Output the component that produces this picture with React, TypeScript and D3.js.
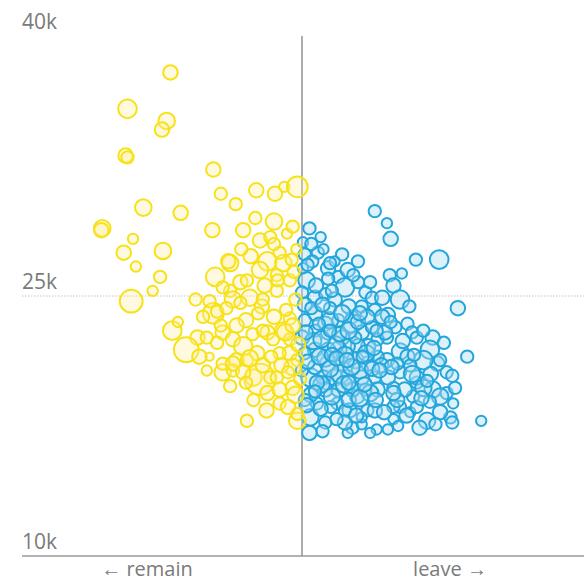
import React from "react";
import * as d3 from "d3";

// [leave %, median income (k£), electorate (k)]
const remainAreas: [number, number, number][] = [
  [35.9, 37.9, 275], [31.3, 35.8, 455], [35.5, 35.1, 360], [35.0, 34.6, 275],
  [31.1, 33.1, 275], [31.3, 33.0, 200], [40.5, 32.3, 275], [33.0, 30.1, 360],
  [37.0, 29.8, 275], [28.6, 28.9, 360], [28.5, 28.8, 275], [31.9, 28.3, 140],
  [30.9, 27.5, 275], [35.1, 27.6, 360], [32.2, 26.7, 140], [34.8, 26.1, 200],
  [34.0, 25.3, 140], [31.7, 24.7, 680], [41.3, 30.9, 200], [42.9, 30.3, 200],
  [45.1, 31.1, 275], [47.1, 30.9, 275], [48.1, 31.3, 140], [49.5, 31.3, 560],
  [40.4, 28.8, 275], [43.7, 28.8, 275], [47.0, 29.3, 360], [45.5, 28.2, 275],
  [46.6, 28.4, 200], [48.4, 28.6, 140], [40.7, 26.1, 455], [42.3, 26.9, 360],
  [43.4, 25.8, 275], [44.1, 25.9, 200], [42.3, 25.3, 200], [44.4, 24.9, 360],
  [46.3, 27.0, 455], [48.0, 26.9, 360], [47.3, 26.2, 200], [48.7, 25.9, 200],
  [47.3, 25.3, 200], [45.7, 24.4, 275], [45.3, 24.0, 200], [40.5, 24.0, 560],
  [39.4, 23.8, 200], [36.1, 23.0, 455], [36.7, 23.5, 140], [38.8, 22.6, 275],
  [37.6, 21.9, 800], [41.5, 22.9, 275], [40.9, 22.3, 200], [42.6, 22.5, 275],
  [43.7, 22.1, 455], [43.0, 21.3, 275], [44.1, 21.3, 200], [45.2, 21.7, 275],
  [46.3, 22.9, 275], [46.9, 22.5, 200], [48.0, 23.0, 360], [48.7, 22.5, 200],
  [48.7, 21.7, 275], [49.5, 21.3, 200], [41.5, 20.6, 360], [42.6, 20.7, 200],
  [44.8, 20.3, 360], [45.5, 20.2, 1260], [39.8, 20.7, 140], [40.1, 21.5, 90],
  [46.6, 20.3, 200], [46.3, 19.4, 275], [47.3, 20.3, 200], [47.6, 21.7, 200],
  [49.0, 19.7, 275], [49.5, 17.8, 360], [44.1, 17.8, 200], [40.9, 24.1, 200],
  [42.1, 27.0, 275], [47.6, 27.5, 200], [48.9, 27.1, 200], [45.5, 26.5, 360],
  [41.5, 25.5, 200], [42.6, 24.8, 360], [45.8, 24.8, 200], [40.1, 24.7, 200],
  [47.4, 25.9, 200], [41.9, 24.3, 200], [43.4, 24.6, 200], [48.2, 22.9, 360],
  [39.8, 22.6, 200], [44.4, 21.4, 360], [41.5, 21.1, 200], [42.6, 21.1, 275],
  [43.7, 20.6, 275], [47.6, 19.6, 275], [49.0, 20.9, 360], [47.6, 18.8, 200],
  [49.5, 18.2, 200], [49.8, 20.2, 200], [48.7, 23.7, 200], [49.3, 24.8, 200],
  [49.4, 27.7, 140], [49.1, 26.4, 200], [49.3, 19.3, 360], [49.6, 22.2, 275],
  [44.0, 23.6, 275], [45.8, 23.0, 200], [47.0, 23.8, 275], [48.3, 24.2, 200],
  [46.0, 25.6, 275], [43.0, 23.3, 275], [41.3, 23.3, 200], [44.7, 22.8, 200],
  [47.8, 21.0, 275], [45.8, 21.0, 275], [44.0, 20.0, 200], [46.7, 21.5, 200],
  [48.5, 20.6, 200], [42.3, 19.8, 200], [44.8, 19.0, 200], [46.2, 18.4, 275],
  [48.5, 18.6, 275], [49.0, 23.3, 275], [47.0, 28.0, 200], [44.5, 27.3, 275],
  [38.6, 24.8, 200], [39.0, 21.5, 275], [43.5, 27.7, 200], [49.0, 29.0, 200],
  [45.0, 29.5, 200],
];

const leaveAreas: [number, number, number][] = [
  [57.8, 29.9, 200], [59.1, 29.2, 140], [59.5, 28.3, 275], [62.2, 27.1, 200],
  [64.7, 27.1, 455], [66.7, 24.3, 275], [67.7, 21.5, 200], [69.2, 17.8, 140],
  [50.8, 28.9, 200], [50.1, 28.1, 140], [50.3, 27.4, 200], [51.7, 27.5, 200],
  [52.3, 27.7, 140], [54.3, 27.4, 200], [52.8, 26.6, 275], [53.9, 26.1, 200],
  [54.9, 26.5, 275], [54.6, 25.5, 455], [59.4, 26.2, 200], [60.7, 26.3, 140],
  [59.8, 25.6, 275], [60.5, 24.8, 455], [56.8, 25.2, 200], [50.5, 25.9, 360],
  [59.2, 23.9, 275], [61.3, 23.4, 200], [64.0, 22.6, 275], [63.7, 21.9, 455],
  [64.5, 21.1, 275], [65.5, 20.6, 200], [63.0, 21.3, 455], [62.3, 20.0, 200],
  [64.0, 19.6, 360], [65.5, 19.4, 200], [66.2, 18.8, 140], [63.4, 17.8, 360],
  [65.9, 18.0, 200], [61.6, 18.3, 140], [60.5, 18.6, 200], [58.0, 17.3, 140],
  [59.2, 17.3, 140], [55.4, 17.4, 200], [55.1, 18.4, 275], [52.5, 17.7, 200],
  [50.9, 18.0, 360], [51.6, 18.8, 200], [53.8, 18.8, 200], [55.9, 19.2, 275],
  [57.0, 18.4, 200], [52.7, 20.0, 275], [50.9, 20.3, 455], [61.8, 22.9, 200],
  [62.3, 22.6, 200], [60.5, 21.8, 360], [64.8, 21.3, 200], [66.1, 20.4, 200],
  [59.1, 22.6, 200], [59.1, 21.3, 275], [62.3, 20.3, 275], [63.0, 19.7, 360],
  [64.8, 19.2, 360], [61.9, 19.2, 200], [62.3, 18.6, 200], [59.8, 18.6, 200],
  [64.8, 18.3, 275], [66.1, 17.7, 200], [59.8, 19.7, 200], [60.5, 20.6, 200],
  [50.0, 25.2, 200], [51.4, 24.9, 275], [52.5, 25.1, 200], [53.5, 24.8, 275],
  [57.8, 24.2, 200], [56.4, 24.4, 200], [55.4, 23.8, 200], [51.4, 24.0, 275],
  [50.3, 23.6, 200], [52.5, 23.4, 275], [53.9, 23.6, 200], [50.0, 22.6, 275],
  [51.4, 23.0, 200], [52.8, 22.9, 275], [54.3, 22.6, 275], [55.4, 23.4, 455],
  [56.4, 22.9, 275], [57.5, 23.2, 200], [58.6, 23.8, 275], [58.1, 22.5, 200],
  [57.1, 22.1, 275], [56.0, 22.1, 275], [54.9, 22.1, 275], [53.9, 21.9, 360],
  [52.8, 21.9, 275], [51.4, 21.9, 275], [50.3, 21.7, 200], [51.4, 20.9, 275],
  [52.8, 21.1, 360], [54.3, 21.1, 275], [55.7, 21.3, 360], [57.1, 21.1, 275],
  [58.1, 21.5, 200], [52.3, 20.3, 275], [53.5, 20.3, 360], [54.9, 20.3, 275],
  [56.4, 20.3, 275], [57.8, 20.3, 200], [59.2, 20.3, 275], [52.5, 19.6, 275],
  [53.9, 19.6, 275], [55.4, 19.6, 275], [56.8, 19.6, 200], [58.1, 19.6, 275],
  [53.1, 18.6, 200], [54.6, 18.4, 200], [57.8, 18.4, 275], [54.9, 17.1, 140],
  [56.4, 17.6, 140], [51.1, 27.0, 200], [53.5, 27.0, 140], [56.0, 27.0, 200],
  [53.2, 25.3, 200], [56.0, 25.8, 200], [57.5, 24.9, 200], [50.3, 24.5, 275],
  [50.1, 26.6, 140], [58.6, 24.9, 275], [60.0, 23.2, 200], [50.9, 19.3, 275],
  [50.0, 20.7, 200], [50.3, 19.0, 200], [54.6, 17.7, 275], [56.4, 18.0, 140],
  [59.8, 17.9, 140], [53.6, 22.2, 360], [54.6, 21.6, 360], [56.2, 20.7, 360],
  [52.5, 21.4, 360], [54.1, 20.5, 455], [51.2, 22.4, 360], [52.1, 19.9, 360],
  [57.3, 19.4, 360], [53.0, 23.6, 360], [55.7, 22.6, 200], [51.8, 23.4, 200],
  [61.3, 21.5, 275], [61.6, 21.0, 200], [61.0, 19.6, 275], [60.2, 21.1, 200],
  [66.4, 19.7, 200], [63.7, 18.9, 200],
  [50.6, 21.2, 275], [51.9, 21.5, 360], [53.2, 21.6, 275], [54.0, 22.8, 275],
  [55.0, 23.0, 360], [56.0, 23.5, 275], [56.9, 21.7, 360], [57.7, 22.0, 275],
  [58.5, 21.0, 275], [53.0, 20.8, 360], [55.3, 20.9, 360], [57.5, 20.8, 275],
  [51.6, 20.0, 275], [53.2, 19.2, 360], [55.0, 19.0, 275], [56.2, 19.1, 360],
  [57.9, 19.0, 275], [51.4, 19.5, 200], [52.0, 18.5, 275], [55.8, 18.1, 275],
  [53.7, 17.9, 200], [58.8, 18.3, 275], [59.6, 20.9, 275], [58.9, 22.9, 275],
  [57.0, 23.8, 275], [55.0, 24.4, 275], [53.0, 24.3, 200], [51.5, 25.6, 275],
  [52.8, 26.0, 200], [55.5, 26.2, 200], [57.3, 25.8, 200], [50.6, 26.8, 200],
  [51.0, 28.0, 200], [52.0, 28.4, 140], [53.0, 26.9, 200], [54.3, 24.0, 360],
  [56.2, 24.0, 275], [50.4, 22.9, 275], [51.0, 24.3, 200], [52.1, 22.5, 360],
  [53.7, 21.4, 275], [54.5, 19.9, 360], [56.7, 19.9, 275], [58.3, 20.7, 275],
  [60.2, 19.0, 275], [61.2, 18.1, 275], [62.8, 19.1, 275], [63.8, 20.5, 275],
  [62.0, 21.6, 200], [60.8, 22.4, 275], [59.5, 23.5, 200], [61.5, 24.4, 200],
  [63.0, 23.0, 200], [65.2, 22.3, 200], [64.3, 17.6, 200], [62.6, 17.4, 275],
  [60.3, 17.5, 140], [57.3, 17.1, 140], [52.2, 17.2, 200], [50.8, 17.1, 275],
  [50.5, 18.7, 275], [53.0, 23.0, 200], [54.8, 21.3, 275], [52.2, 24.5, 275],
  [58.0, 23.0, 200], [56.5, 21.5, 200], [55.0, 20.0, 275], [59.8, 19.4, 275],
  [61.8, 20.5, 360], [63.4, 20.1, 200],
];

const yTicks = [10, 25, 40];
const yTickLabels = ["10k", "25k", "40k"];
const axisLabels = ["← remain", "leave →"];

const W = 584;
const H = 582;
const FONT = "'Open Sans', 'Noto Sans', sans-serif";

export default function App() {
  const x = d3.scaleLinear().domain([20, 80]).range([22, 582]);
  const y = d3.scaleLinear().domain([10, 40]).range([556, 36]);
  const r = d3.scaleSqrt().domain([0, 1100]).range([0, 14.5]);

  const yellowStroke = "#f7e21a";
  const yellowFill = "rgba(255, 240, 150, 0.3)";
  const blueStroke = "#23a6dc";
  const blueFill = "rgba(170, 220, 242, 0.4)";

  return (
    <div style={{ position: "absolute", left: 0, top: 0 }}>
      <svg width={W} height={H} style={{ display: "block", background: "#fff" }}>
        <line
          x1={22}
          x2={584}
          y1={y(25)}
          y2={y(25)}
          stroke="#c4c4c4"
          strokeWidth={1}
          strokeDasharray="1.5,1.5"
        />
        <line x1={x(50)} x2={x(50)} y1={y(40)} y2={y(10)} stroke="#999" strokeWidth={1.6} />
        <line x1={22} x2={584} y1={y(10)} y2={y(10)} stroke="#999" strokeWidth={1.6} />

        {yTicks.map((t, i) => (
          <text key={t} x={22} y={y(t) - 7} fontFamily={FONT} fontSize={21} fill="#7a7a7a">
            {yTickLabels[i]}
          </text>
        ))}

        <g>
          {leaveAreas.map((d, i) => (
            <circle
              key={"b" + i}
              cx={x(d[0])}
              cy={y(d[1])}
              r={r(d[2])}
              fill={blueFill}
              stroke={blueStroke}
              strokeWidth={2}
            />
          ))}
        </g>
        <g>
          {remainAreas.map((d, i) => (
            <circle
              key={"y" + i}
              cx={x(d[0])}
              cy={y(d[1])}
              r={r(d[2])}
              fill={yellowFill}
              stroke={yellowStroke}
              strokeWidth={2}
            />
          ))}
        </g>

        <text x={147} y={576} textAnchor="middle" fontFamily={FONT} fontSize={20} fill="#7a7a7a">
          {axisLabels[0]}
        </text>
        <text x={450} y={576} textAnchor="middle" fontFamily={FONT} fontSize={20} fill="#7a7a7a">
          {axisLabels[1]}
        </text>
      </svg>
    </div>
  );
}
